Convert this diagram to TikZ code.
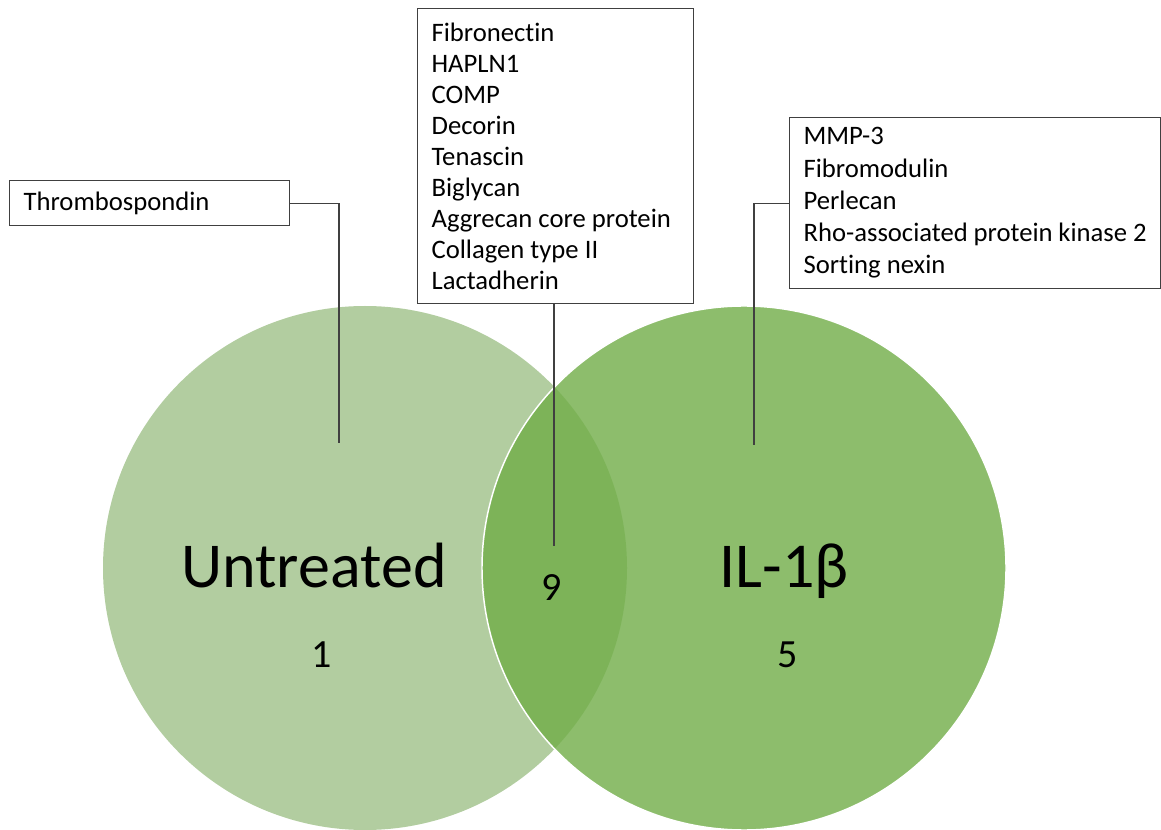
\documentclass[tikz,border=0pt]{standalone}
\usepackage{fontspec}
\setmainfont{Carlito}[Ligatures=NoCommon]
\usetikzlibrary{positioning}
\definecolor{untrgreen}{HTML}{B2CDA0}
\definecolor{ilgreen}{HTML}{70AD47}
\definecolor{leadgray}{HTML}{404040}
\tikzset{
  vset/.style={circle,minimum size=393pt,inner sep=0pt},
  setlbl/.style={font=\fontsize{48}{58}\selectfont,anchor=base,inner sep=0pt},
  cntlbl/.style={font=\fontsize{30}{36}\selectfont,anchor=base,inner sep=0pt},
  listbox/.style={draw=leadgray,line width=0.9pt,fill=white,anchor=north west,
    align=flush left,font=\fontsize{20}{23.25}\selectfont,inner xsep=10.5pt,inner ysep=0pt},
  lead/.style={draw=leadgray,line width=0.8pt},
}
\begin{document}
\begin{tikzpicture}[x=0.75pt,y=-0.75pt]
  \useasboundingbox (0,0) rectangle (1161,830);
  \node[vset,fill=untrgreen] (untrset) at (365,568) {};
  \node[vset,fill=ilgreen,fill opacity=0.8,draw=white,line width=1.1pt] (ilset) at (744,568) {};

  \node[listbox,text width=189pt,minimum height=33.75pt] (thrbox) at (9,180) {Thrombospondin};
  \node[listbox,text width=186pt,minimum height=221.25pt] (sharedbox) at (417,8)
    {Fibronectin\\HAPLN1\\COMP\\Decorin\\Tenascin\\Biglycan\\Aggrecan core protein\\Collagen type II\\Lactadherin};
  \node[listbox,text width=257.25pt,minimum height=128.25pt,font=\fontsize{20}{24.2}\selectfont] (ilbox) at (789,117)
    {MMP-3\\Fibromodulin\\Perlecan\\Rho-associated protein kinase 2\\Sorting nexin};

  \coordinate (thrEnd) at (339,443);
  \coordinate (sharedEnd) at (554,546);
  \coordinate (ilEnd) at (754,445);
  \draw[lead] (thrbox.east) -| (thrEnd);
  \draw[lead] (sharedEnd |- sharedbox.south) -- (sharedEnd);
  \draw[lead] (ilbox.west) -| (ilEnd);

  \node[setlbl] (untrlbl) at (314,588) {Untreated};
  \node[setlbl] (illbl) at (784,588) {IL-1β};
  \node[cntlbl] (untrcnt) at (322,667) {1};
  \node[cntlbl] (sharedcnt) at (552,600) {9};
  \node[cntlbl] (ilcnt) at (788,667) {5};
\end{tikzpicture}
\end{document}
